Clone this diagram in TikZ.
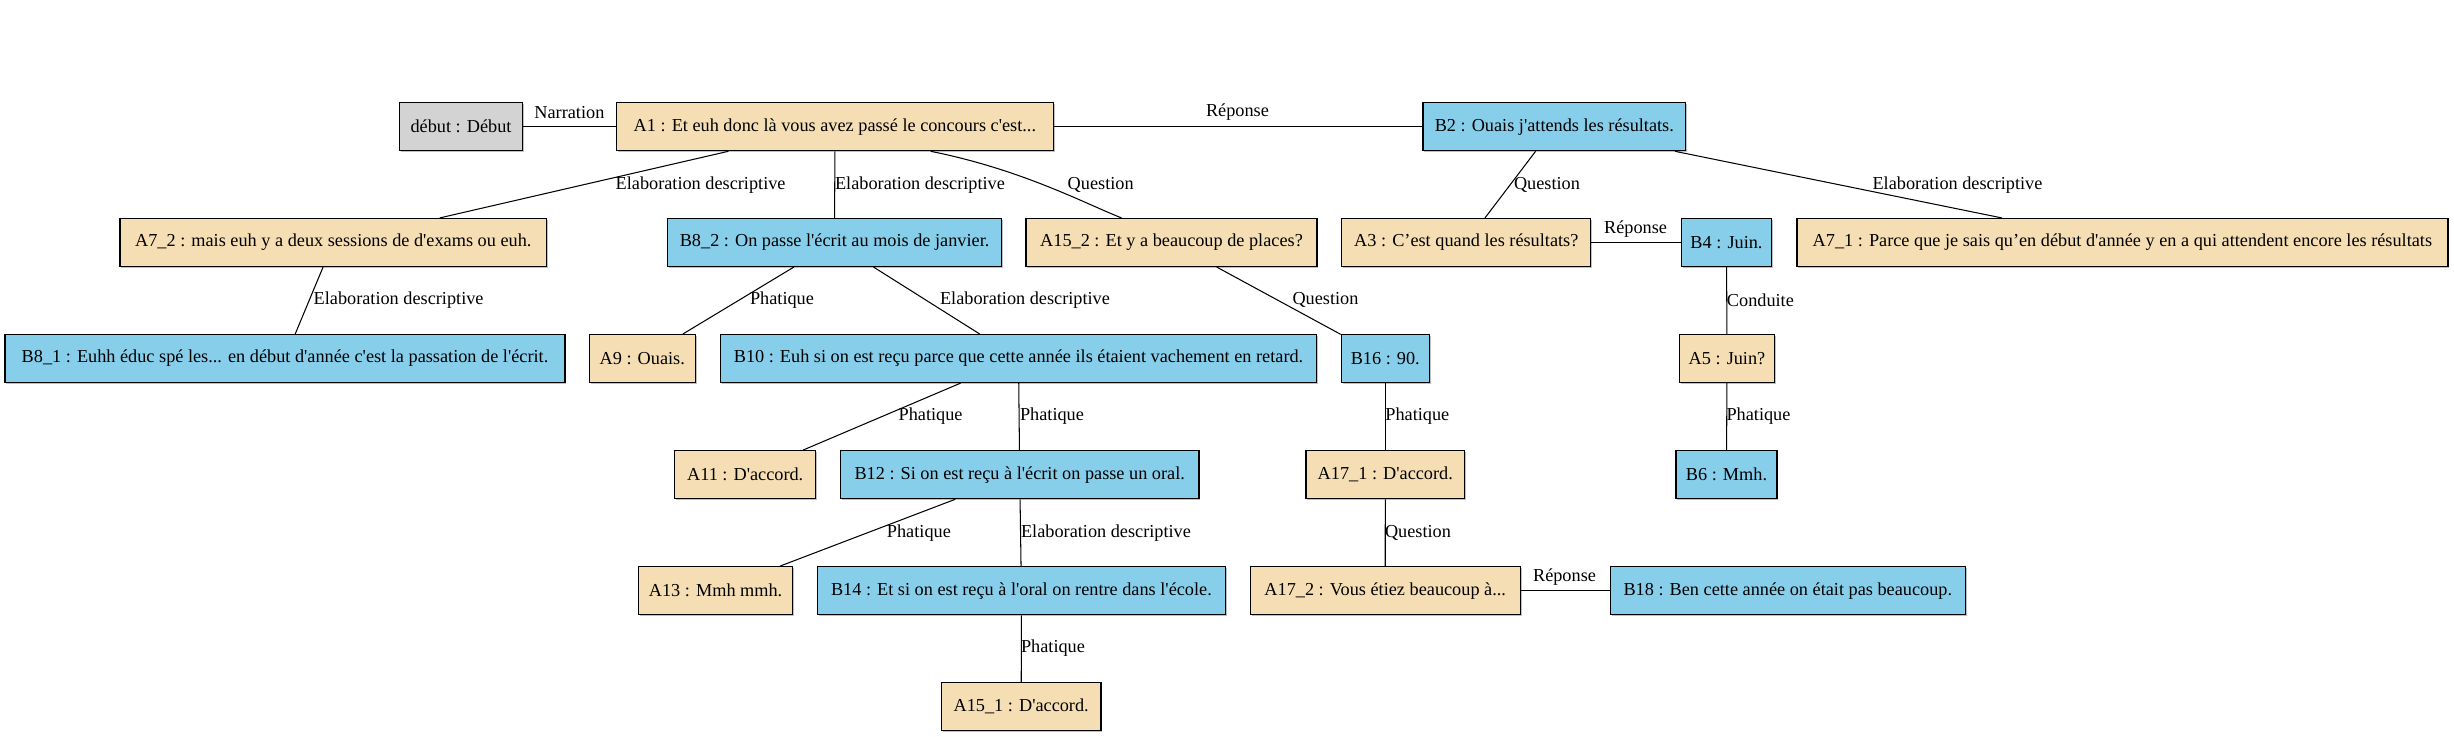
\documentclass[tikz,border=0pt]{standalone}
\usepackage{fontspec}
\setmainfont{Liberation Serif}
\usetikzlibrary{shadows}
\definecolor{wheatA}{HTML}{F5DEB3}
\definecolor{skyB}{HTML}{87CEEB}
\definecolor{greyS}{HTML}{D3D3D3}
\newcommand{\ap}{\textquotesingle}
\tikzset{
	utt/.style={draw=black, line width=0.9pt, minimum height=36.8pt, inner sep=2pt,
		font=\fontsize{14}{16}\selectfont,
		drop shadow={shadow xshift=1.1pt, shadow yshift=-1.1pt, fill=black!50}},
	uttA/.style={utt, fill=wheatA},
	uttB/.style={utt, fill=skyB},
	uttS/.style={utt, fill=greyS},
	rel/.style={draw=black, line width=0.8pt},
	rlab/.style={inner sep=0pt, font=\fontsize{14}{16}\selectfont}
}
\begin{document}
\begin{tikzpicture}[x=0.7667pt, y=-0.7667pt]
	\fill[white] (0,0) rectangle (2454,736);
	\useasboundingbox (0,0) rectangle (2454,736);
	% row 1
	\node[uttS, minimum width=94.2pt] (debut) at (461,126.7) {début : Début};
	\node[uttA, minimum width=335.0pt] (A1) at (834.9,126.7) {A1 : Et euh donc là vous avez passé le concours c\ap est...};
	\node[uttB, minimum width=201.4pt] (B2) at (1554.3,126.7) {B2 : Ouais j\ap attends les résultats.};
	% row 2
	\node[uttA, minimum width=327.2pt] (A7_2) at (333.3,242.5) {A7\_2 : mais euh y a deux sessions de d\ap exams ou euh.};
	\node[uttB, minimum width=256.1pt] (B8_2) at (834.6,242.5) {B8\_2 : On passe l\ap écrit au mois de janvier.};
	\node[uttA, minimum width=223.1pt] (A15_2) at (1171.5,242.5) {A15\_2 : Et y a beaucoup de places?};
	\node[uttA, minimum width=190.8pt] (A3) at (1466.3,242.5) {A3 : C’est quand les résultats?};
	\node[uttB, minimum width=69.4pt] (B4) at (1726.5,242.5) {B4 : Juin.};
	\node[uttA, minimum width=499.1pt] (A7_1) at (2122.4,242.5) {A7\_1 : Parce que je sais qu’en début d\ap année y en a qui attendent encore les résultats};
	% row 3
	\node[uttB, minimum width=429.4pt] (B8_1) at (285,358.5) {B8\_1 : Euhh éduc spé les... en début d\ap année c\ap est la passation de l\ap écrit.};
	\node[uttA, minimum width=81.3pt] (A9) at (642.3,358.5) {A9 : Ouais.};
	\node[uttB, minimum width=456.6pt] (B10) at (1018.5,358.5) {B10 : Euh si on est reçu parce que cette année ils étaient vachement en retard.};
	\node[uttB, minimum width=67.5pt] (B16) at (1385.3,358.5) {B16 : 90.};
	\node[uttA, minimum width=72.5pt] (A5) at (1727,358.5) {A5 : Juin?};
	% row 4
	\node[uttA, minimum width=108.3pt] (A11) at (745.2,474.7) {A11 : D\ap accord.};
	\node[uttB, minimum width=275.0pt] (B12) at (1019.7,474.7) {B12 : Si on est reçu à l\ap écrit on passe un oral.};
	\node[uttA, minimum width=121.6pt] (A17_1) at (1385.3,474.7) {A17\_1 : D\ap accord.};
	\node[uttB, minimum width=77.4pt] (B6) at (1726.5,474.7) {B6 : Mmh.};
	% row 5
	\node[uttA, minimum width=117.7pt] (A13) at (715.6,590.7) {A13 : Mmh mmh.};
	\node[uttB, minimum width=312.8pt] (B14) at (1021.4,590.7) {B14 : Et si on est reçu à l\ap oral on rentre dans l\ap école.};
	\node[uttA, minimum width=207.2pt] (A17_2) at (1385.2,590.7) {A17\_2 : Vous étiez beaucoup à...};
	\node[uttB, minimum width=272.0pt] (B18) at (1787.8,590.7) {B18 : Ben cette année on était pas beaucoup.};
	% row 6
	\node[uttA, minimum width=122.4pt] (A15_1) at (1021.2,706.7) {A15\_1 : D\ap accord.};

	% relations
	\draw[rel] (debut) -- (A1);
	\draw[rel] (A1) -- (B2);
	\draw[rel] (A1) -- (A7_2);
	\draw[rel] (A1.south) -- (B8_2.north);
	\draw[rel] ([xshift=73.4pt]A1.south) .. controls +(70pt,-14pt) and +(-28pt,11pt) .. ([xshift=-38.3pt]A15_2.north);
	\draw[rel] (B2) -- (A3);
	\draw[rel] (B2) -- (A7_1);
	\draw[rel] (A3) -- (B4);
	\draw[rel] (A7_2) -- (B8_1);
	\draw[rel] (B8_2) -- (A9);
	\draw[rel] (B8_2) -- (B10);
	\draw[rel] (A15_2) -- (B16);
	\draw[rel] (B4) -- (A5);
	\draw[rel] (B10) -- (A11);
	\draw[rel] (B10) -- (B12);
	\draw[rel] (B16) -- (A17_1);
	\draw[rel] (A5) -- (B6);
	\draw[rel] (B12) -- (A13);
	\draw[rel] (B12) -- (B14);
	\draw[rel] (A17_1) -- (A17_2);
	\draw[rel] (A17_2) -- (B18);
	\draw[rel] (B14) -- (A15_1);

	% relation labels
	\node[rlab] (lNarr) at (569.4,112.3) {Narration};
	\node[rlab] (lRep1) at (1237.5,112.3) {Réponse};
	\node[rlab] (lEla1) at (700.6,185) {Elaboration descriptive};
	\node[rlab] (lEla2) at (920,185) {Elaboration descriptive};
	\node[rlab] (lQue1) at (1100.7,185) {Question};
	\node[rlab] (lQue2) at (1547,185) {Question};
	\node[rlab] (lEla3) at (1957.5,185) {Elaboration descriptive};
	\node[rlab] (lRep2) at (1635.6,229) {Réponse};
	\node[rlab] (lEla4) at (398.6,300) {Elaboration descriptive};
	\node[rlab] (lPha1) at (782,300) {Phatique};
	\node[rlab] (lEla5) at (1025,300) {Elaboration descriptive};
	\node[rlab] (lQue3) at (1325.5,300) {Question};
	\node[rlab] (lCond) at (1760.4,300) {Conduite};
	\node[rlab] (lPha2) at (930.6,416) {Phatique};
	\node[rlab] (lPha3) at (1052,416) {Phatique};
	\node[rlab] (lPha4) at (1417.3,416) {Phatique};
	\node[rlab] (lPha5) at (1758.5,416) {Phatique};
	\node[rlab] (lPha6) at (918.9,532.7) {Phatique};
	\node[rlab] (lEla6) at (1106,532.7) {Elaboration descriptive};
	\node[rlab] (lQue4) at (1418,532.7) {Question};
	\node[rlab] (lRep3) at (1564.5,577.3) {Réponse};
	\node[rlab] (lPha7) at (1053,648.3) {Phatique};
\end{tikzpicture}
\end{document}
